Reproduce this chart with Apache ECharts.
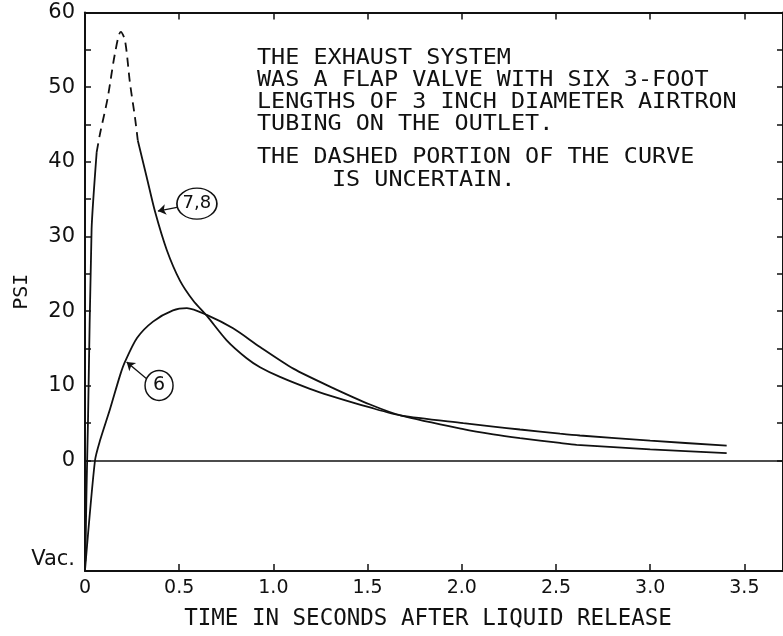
<!DOCTYPE html>
<html><head><meta charset="utf-8">
<script src="https://cdn.jsdelivr.net/npm/echarts@6/dist/echarts.min.js"></script>
<style>html,body{margin:0;padding:0;background:#fff}#c{width:783px;height:636px}</style>
</head><body><div id="c"></div>
<script>
// ---- data ----
const xTickValues = [0, 0.5, 1, 1.5, 2, 2.5, 3, 3.5];
const yTickValues = [0, 5, 10, 15, 20, 25, 30, 35, 40, 45, 50, 55, 60];
const yLabelValues = [-13.2, 0, 10, 20, 30, 40, 50, 60];
const vacLabel = 'Vac.';

// Test 6
const curve6 = [
  [0, -14.7], [0.053, 0], [0.08, 2.7], [0.133, 6.9], [0.186, 11.4], [0.212, 13.2],
  [0.276, 16.4], [0.361, 18.6], [0.467, 20.1], [0.541, 20.4], [0.646, 19.5],
  [0.786, 17.7], [0.929, 15.2], [1.106, 12.3], [1.30, 9.9], [1.513, 7.5],
  [1.68, 6.0], [2.008, 4.2], [2.167, 3.5], [2.309, 3.0], [2.521, 2.35],
  [2.61, 2.1], [3.0, 1.5], [3.406, 1.0]
];
// Tests 7,8 : rising part (solid), uncertain peak (dashed), decay (solid)
const curve78Rise = [
  [0.002, -13.5], [0.008, -4], [0.016, 5.4], [0.035, 31], [0.062, 41.3]
];
const curve78Uncertain = [
  [0.062, 41.3], [0.08, 43.8], [0.12, 48.5], [0.159, 54.5], [0.19, 57.4],
  [0.212, 56.3], [0.239, 50.5], [0.265, 46], [0.28, 42.9]
];
const curve78Decay = [
  [0.28, 42.9], [0.327, 38], [0.372, 33.3], [0.434, 28.2], [0.504, 24.1],
  [0.575, 21.4], [0.646, 19.4], [0.752, 16.1], [0.858, 13.7], [0.929, 12.5],
  [1.035, 11.2], [1.194, 9.6], [1.30, 8.7], [1.513, 7.1], [1.68, 6.0],
  [2.008, 5.0], [2.167, 4.55], [2.309, 4.15], [2.521, 3.6], [2.627, 3.35],
  [3.0, 2.65], [3.406, 2.0]
];
const noteLines = [
  'THE EXHAUST SYSTEM',
  'WAS A FLAP VALVE WITH SIX 3-FOOT',
  'LENGTHS OF 3 INCH DIAMETER AIRTRON',
  'TUBING ON THE OUTLET.',
  'THE DASHED PORTION OF THE CURVE',
  'IS UNCERTAIN.'
];
const xTitle = 'TIME IN SECONDS AFTER LIQUID RELEASE';
const yTitle = 'PSI';

// ---- annotation placement (data coordinates) ----
const circle78 = [0.594, 34.4];
const arrow78 = [[0.488, 33.9], [0.387, 33.4]];
const circle6 = [0.393, 10.05];
const arrow6 = [[0.327, 10.95], [0.221, 13.2]];

const INK = '#111';
const lineStyle = { color: INK, width: 1.8 };
const axisFont = 'DejaVu Sans';
const letterFont = 'DejaVu Sans Mono';

const chart = echarts.init(document.getElementById('c'), null, { renderer: 'canvas' });

const xFmt = v => (v === 0 ? '0' : v.toFixed(1));
const yFmt = v => (v < 0 ? vacLabel : String(v));

const noteX = [257, 257, 257, 257, 257, 332];
const noteY = [58.5, 80.5, 102.5, 124.5, 157, 180];

const frameLine = { show: true, onZero: false, lineStyle: { color: INK, width: 2 } };

chart.setOption({
  animation: false,
  backgroundColor: '#fff',
  grid: { left: 85, right: 0, top: 12.5, bottom: 65, containLabel: false, outerBoundsMode: 'none' },
  xAxis: [
    {
      type: 'value', min: 0, max: 3.705, position: 'bottom',
      axisLine: frameLine,
      axisTick: { show: true, inside: true, length: 7, customValues: xTickValues, lineStyle: { color: INK, width: 1.5 } },
      axisLabel: { show: true, customValues: xTickValues, formatter: xFmt, margin: 8,
        fontFamily: axisFont, fontSize: 19, color: INK },
      splitLine: { show: false },
      name: xTitle, nameLocation: 'middle', nameGap: 37, nameMoveOverlap: false,
      nameTextStyle: { fontFamily: letterFont, fontSize: 22.5, color: INK, padding: [0, 12, 0, 0] }
    },
    {
      type: 'value', min: 0, max: 3.705, position: 'top',
      axisLine: frameLine,
      axisTick: { show: true, inside: true, length: 7, customValues: xTickValues, lineStyle: { color: INK, width: 1.5 } },
      axisLabel: { show: false },
      splitLine: { show: false }
    }
  ],
  yAxis: [
    {
      type: 'value', min: -14.8, max: 60, position: 'left',
      axisLine: frameLine,
      axisTick: { show: true, inside: true, length: 6, customValues: yTickValues, lineStyle: { color: INK, width: 1.5 } },
      axisLabel: { show: true, customValues: yLabelValues, formatter: yFmt, margin: 10,
        fontFamily: axisFont, fontSize: 21, color: INK },
      splitLine: { show: false },
      name: yTitle, nameLocation: 'middle', nameGap: 53, nameMoveOverlap: false,
      nameTextStyle: { fontFamily: letterFont, fontSize: 20, color: INK }
    },
    {
      type: 'value', min: -14.8, max: 60, position: 'right',
      axisLine: frameLine,
      axisTick: { show: true, inside: true, length: 6, customValues: yTickValues, lineStyle: { color: INK, width: 1.5 } },
      axisLabel: { show: false },
      splitLine: { show: false }
    }
  ],
  series: [
    {
      name: '6', type: 'line', data: curve6, showSymbol: false, symbol: 'none',
      smooth: 0.25, lineStyle: lineStyle, z: 3,
      markLine: {
        silent: true, symbol: ['none', 'arrow'], symbolSize: 8, label: { show: false },
        lineStyle: { color: INK, width: 1.3, type: 'solid' },
        data: [[{ coord: arrow6[0] }, { coord: arrow6[1] }]]
      },
      markPoint: {
        silent: true,
        data: [{ coord: circle6, symbol: 'circle', symbolSize: [28, 30],
          itemStyle: { color: '#fff', borderColor: INK, borderWidth: 1.5 },
          label: { show: true, position: 'inside', formatter: '6', color: INK, fontFamily: axisFont, fontSize: 19 } }]
      }
    },
    {
      name: '7,8', type: 'line', data: curve78Rise, showSymbol: false, symbol: 'none',
      smooth: 0.2, lineStyle: lineStyle, z: 3,
      markLine: {
        silent: true, symbol: 'none', label: { show: false },
        lineStyle: { color: INK, width: 1.6, type: 'solid' },
        data: [{ yAxis: 0 }]
      }
    },
    {
      name: '7,8 (uncertain)', type: 'line', data: curve78Uncertain, showSymbol: false, symbol: 'none',
      smooth: 0.3, lineStyle: { color: INK, width: 1.8, type: [9, 6] }, z: 3
    },
    {
      name: '7,8 ', type: 'line', data: curve78Decay, showSymbol: false, symbol: 'none',
      smooth: 0.25, lineStyle: lineStyle, z: 3,
      markLine: {
        silent: true, symbol: ['none', 'arrow'], symbolSize: 8, label: { show: false },
        lineStyle: { color: INK, width: 1.3, type: 'solid' },
        data: [[{ coord: arrow78[0] }, { coord: arrow78[1] }]]
      },
      markPoint: {
        silent: true,
        data: [{ coord: circle78, symbol: 'circle', symbolSize: [40, 31],
          itemStyle: { color: '#fff', borderColor: INK, borderWidth: 1.5 },
          label: { show: true, position: 'inside', formatter: '7,8', color: INK, fontFamily: axisFont, fontSize: 18 } }]
      }
    }
  ],
  graphic: noteLines.map((t, i) => ({
    type: 'text', x: noteX[i], y: noteY[i], scaleX: 1.09, silent: true,
    style: { text: t, fill: INK, font: '21.5px "DejaVu Sans Mono"', align: 'left', verticalAlign: 'middle',
      textAlign: 'left', textVerticalAlign: 'middle' }
  }))
});
</script>
</body></html>
